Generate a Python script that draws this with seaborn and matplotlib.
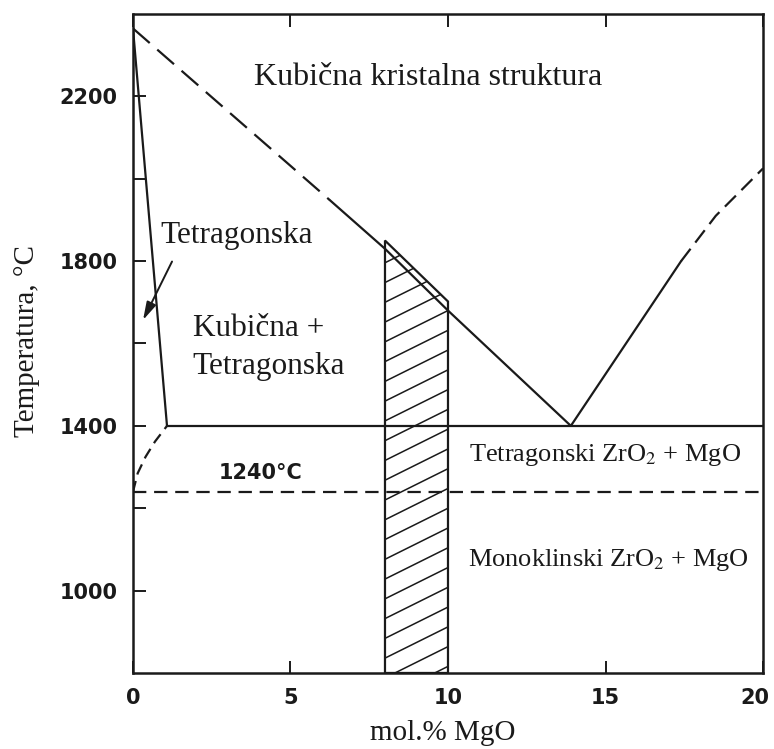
import numpy as np
import matplotlib
matplotlib.use("Agg")
import matplotlib.pyplot as plt
import seaborn as sns
from matplotlib.patches import Polygon
from matplotlib.transforms import ScaledTranslation

# phase boundaries: x = mol.% MgO, T = temperature (degC)
liq_dash_x = [0, 6.25]
liq_dash_T = [2365, 1948]
liq_x = [6.25, 8, 10, 13.9]
liq_T = [1948, 1830, 1680, 1400]
right_x = [13.9, 17.4]
right_T = [1400, 1800]
right_dash_x = [17.4, 18.5, 20]
right_dash_T = [1800, 1910, 2025]
tet_x = [0, 1.08]
tet_T = [2365, 1400]
eut_x = [1.08, 20]
eut_T = [1400, 1400]
curve_x = [0, 0.15, 0.4, 0.7, 1.08]
curve_T = [1240, 1285, 1325, 1362, 1400]
mono_x = [0, 20]
mono_T = [1240, 1240]
# hatched PSZ window
psz_x = [8, 8, 10, 10]
psz_T = [800, 1850, 1702, 800]

xticks = [0, 5, 10, 15, 20]
yticks = [1000, 1400, 1800, 2200]
yminor = [1200, 1600, 2000]

sns.set_theme(style="white")
plt.rcParams['font.family'] = ['Liberation Serif', 'DejaVu Serif']
plt.rcParams['mathtext.fontset'] = 'stix'
plt.rcParams['text.color'] = 'k'
plt.rcParams['axes.labelcolor'] = 'k'
plt.rcParams['xtick.color'] = 'k'
plt.rcParams['ytick.color'] = 'k'

fig = plt.figure(figsize=(7.74, 7.49), dpi=100)
ax = fig.add_axes([0.1718, 0.1015, 0.8140, 0.8798])

solid = dict(color='k', lw=1.6, sort=False, estimator=None, ax=ax)

sns.lineplot(x=liq_dash_x, y=liq_dash_T, linestyle=(0, (10, 4.5)), **solid)
sns.lineplot(x=liq_x, y=liq_T, **solid)
sns.lineplot(x=right_x, y=right_T, **solid)
sns.lineplot(x=right_dash_x, y=right_dash_T, linestyle=(0, (7, 3.5)), **solid)
sns.lineplot(x=tet_x, y=tet_T, **solid)
sns.lineplot(x=eut_x, y=eut_T, **solid)
sns.lineplot(x=curve_x, y=curve_T, linestyle=(0, (5, 3)), **solid)
sns.lineplot(x=mono_x, y=mono_T, linestyle=(0, (6, 3.5)), **solid)

# hatched region, hatch lines drawn by hand (shallow angle like the original)
poly = Polygon(list(zip(psz_x, psz_T)), closed=True, fill=False,
               edgecolor='k', lw=1.6, zorder=3)
ax.add_patch(poly)
hx = np.array([7.9, 10.1])
for t0 in np.arange(740, 1900, 48):
    ln, = ax.plot(hx, t0 + 38 * (hx - 8), color='k', lw=1.1, zorder=2)
    ln.set_clip_path(poly)

ax.annotate("", xy=(0.32, 1657), xytext=(1.24, 1799),
            arrowprops=dict(arrowstyle='-|>,head_length=0.9,head_width=0.25',
                            color='k', lw=1.4, shrinkA=0, shrinkB=0))

ax.set_xlim(0, 20)
ax.set_ylim(800, 2400)

tick_font = dict(family='DejaVu Sans', weight='bold', size=15)
ax.set_xticks(xticks)
ax.set_xticklabels([str(v) for v in xticks], fontdict=tick_font)
ax.set_yticks(yticks)
ax.set_yticklabels([str(v) for v in yticks], fontdict=tick_font)
ax.set_yticks(yminor, minor=True)
ax.tick_params(axis='both', which='both', direction='in', length=9, width=1.4,
               color='k', bottom=True, left=True)
ax.tick_params(axis='x', top=True, pad=11)
ax.tick_params(axis='y', pad=11)
# last x label sits a little inside the frame, as in the original
last = ax.get_xticklabels()[-1]
last.set_transform(last.get_transform() + ScaledTranslation(-6 / 72, 0, fig.dpi_scale_trans))

for sp in ax.spines.values():
    sp.set_color('k')
    sp.set_linewidth(1.8)

ax.set_xlabel("mol.% MgO", fontsize=21, va='center')
ax.xaxis.set_label_coords(0.492, -0.091)
ax.set_ylabel("Temperatura, °C", fontsize=21, va='center')
ax.yaxis.set_label_coords(-0.168, 0.504)

ax.text(9.37, 2245, "Kubična kristalna struktura", fontsize=23, ha='center', va='center')
ax.text(0.86, 1862, "Tetragonska", fontsize=22.5, ha='left', va='center')
ax.text(1.9, 1637, "Kubična +", fontsize=22.5, ha='left', va='center')
ax.text(1.9, 1545, "Tetragonska", fontsize=22.5, ha='left', va='center')
ax.text(4.06, 1285, "1240°C", family='DejaVu Sans', weight='bold', fontsize=15,
        ha='center', va='center')
ax.text(15.0, 1330, "Tetragonski ZrO$_2$ + MgO", fontsize=19, ha='center', va='center')
ax.text(15.08, 1074, "Monoklinski ZrO$_2$ + MgO", fontsize=19, ha='center', va='center')

plt.savefig('out.png', dpi=100)
